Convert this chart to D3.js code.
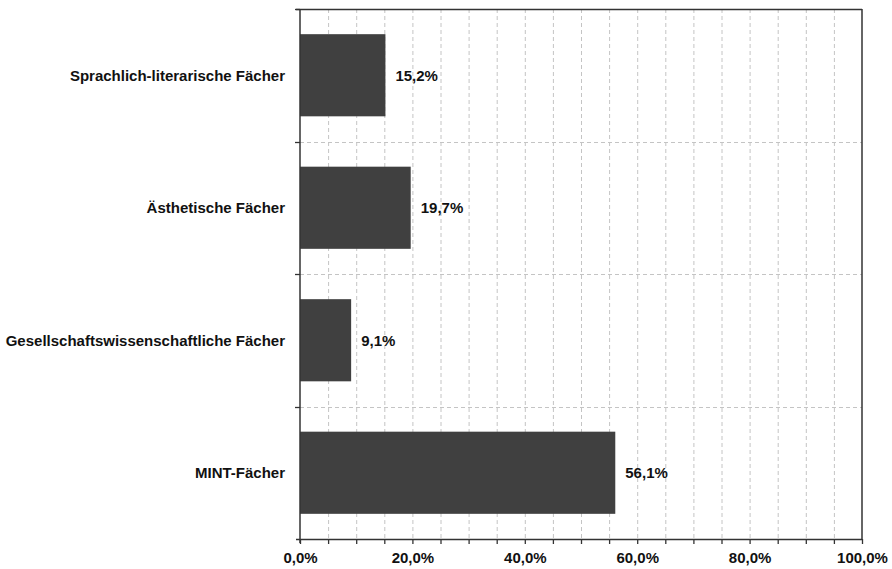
<!DOCTYPE html>
<html><head><meta charset="utf-8">
<script src="https://cdn.jsdelivr.net/npm/d3@7"></script>
<style>body{margin:0;background:#fff}svg{display:block}</style>
</head><body>
<svg id="c" width="892" height="569"></svg>
<script>
const categories = ["Sprachlich-literarische Fächer","Ästhetische Fächer","Gesellschaftswissenschaftliche Fächer","MINT-Fächer"];
const values = [15.2, 19.7, 9.1, 56.1];
const tickValues = [0,20,40,60,80,100];
const tickLabels = ["0,0%","20,0%","40,0%","60,0%","80,0%","100,0%"];
const minorTicks = d3.range(0,101,5);

const svg = d3.select("#c");
const L=300, R=862, T=9, B=539;
const x = d3.scaleLinear().domain([0,100]).range([L,R]);
const y = d3.scaleBand().domain(categories).range([T,B]).paddingInner(0.38).paddingOuter(0.19);
const band = d3.scaleBand().domain(categories).range([T,B]);
const font = "'Liberation Sans', Arial, sans-serif";

// vertical dashed grid
svg.append("g").selectAll("line").data(minorTicks.filter(d=>d>0&&d<100)).join("line")
  .attr("x1",d=>x(d)+0.5).attr("x2",d=>x(d)+0.5).attr("y1",T).attr("y2",B)
  .attr("stroke","#c4c4c4").attr("stroke-dasharray","4,3");
// horizontal dashed grid at band boundaries
const bounds = categories.slice(1).map(c=>band(c));
svg.append("g").selectAll("line").data(bounds).join("line")
  .attr("x1",L).attr("x2",R).attr("y1",d=>Math.round(d)+0.5).attr("y2",d=>Math.round(d)+0.5)
  .attr("stroke","#c4c4c4").attr("stroke-dasharray","4,3");
// left ticks
svg.append("g").selectAll("line").data(bounds.concat([T])).join("line")
  .attr("x1",L-5).attr("x2",L).attr("y1",d=>Math.round(d)+0.5).attr("y2",d=>Math.round(d)+0.5)
  .attr("stroke","#333").attr("stroke-width",1.3);

// bars
svg.append("g").selectAll("rect").data(categories).join("rect")
  .attr("x",L).attr("y",d=>y(d)).attr("width",(d,i)=>x(values[i])-L).attr("height",y.bandwidth())
  .attr("fill","#404040");

// frame
svg.append("line").attr("x1",L-4).attr("x2",R).attr("y1",T+0.5).attr("y2",T+0.5).attr("stroke","#333").attr("stroke-width",1.5);
svg.append("line").attr("x1",R).attr("x2",R).attr("y1",T).attr("y2",B).attr("stroke","#333").attr("stroke-width",1.5);
svg.append("line").attr("x1",L).attr("x2",L).attr("y1",T).attr("y2",B+4).attr("stroke","#333").attr("stroke-width",1.5);

// bottom axis
const ax = svg.append("g").attr("transform",`translate(0,${B})`)
  .call(d3.axisBottom(x).tickValues(minorTicks).tickSize(5).tickFormat(d=>{const i=tickValues.indexOf(d);return i>=0?tickLabels[i]:"";}));
ax.select(".domain").attr("stroke","#333").attr("stroke-width",1.5).attr("d",`M${L-4},0.5H${R}`);
ax.selectAll(".tick line").attr("stroke","#333").attr("stroke-width",1.3);
ax.selectAll(".tick text").attr("font-family",font).attr("font-weight","bold").attr("font-size","15px").attr("fill","#111").attr("dy","1.05em");

// category labels
svg.append("g").selectAll("text").data(categories).join("text")
  .attr("x",285).attr("y",d=>y(d)+y.bandwidth()/2).attr("dy","0.35em").attr("text-anchor","end")
  .attr("font-family",font).attr("font-weight","bold").attr("font-size","15px").attr("fill","#111")
  .text(d=>d);
// value labels
svg.append("g").selectAll("text").data(categories).join("text")
  .attr("x",(d,i)=>x(values[i])+10).attr("y",d=>y(d)+y.bandwidth()/2).attr("dy","0.35em")
  .attr("font-family",font).attr("font-weight","bold").attr("font-size","15px").attr("fill","#111")
  .text((d,i)=>d3.format(".1f")(values[i]).replace(".",",")+"%");
</script>
</body></html>
